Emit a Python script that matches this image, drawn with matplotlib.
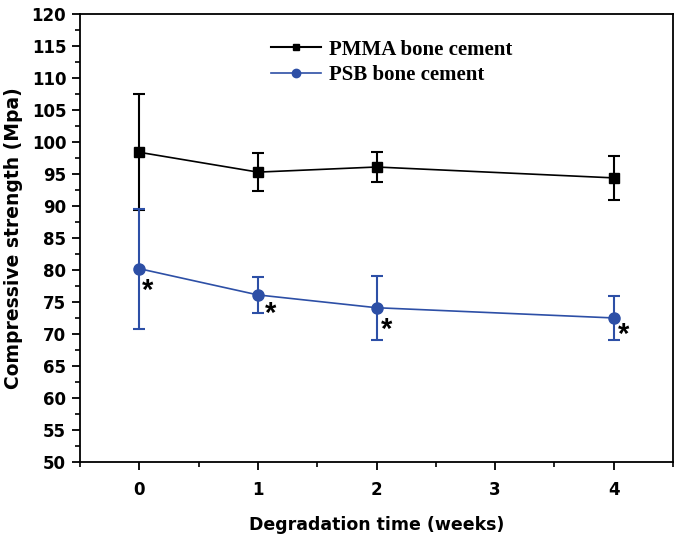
import matplotlib
matplotlib.use("Agg")
import matplotlib.pyplot as plt
from matplotlib.ticker import MultipleLocator

# data
weeks = [0, 1, 2, 4]
pmma_mean = [98.4, 95.3, 96.1, 94.4]
pmma_err = [9.1, 3.0, 2.3, 3.4]
psb_mean = [80.2, 76.1, 74.1, 72.5]
psb_err = [9.4, 2.8, 5.0, 3.5]
x_ticks = [0, 1, 2, 3, 4]
# asterisk offsets (pixels) from each PSB point
star_dx = [8, 13, 10, 10]
star_dy = [-22, -19, -22, -17]

blue = '#2d4fa6'

fig = plt.figure(figsize=(6.79, 5.44), dpi=100)
ax = fig.add_axes([0.118, 0.151, 0.873, 0.823])

c1 = ax.errorbar(weeks, pmma_mean, yerr=pmma_err, color='black', marker='s', markersize=7,
                 linewidth=1.2, elinewidth=1.5, capsize=4, capthick=1.5)
c2 = ax.errorbar(weeks, psb_mean, yerr=psb_err, color=blue, marker='o', markersize=8,
                 linewidth=1.2, elinewidth=1.5, capsize=4, capthick=1.5)

for x, y, dx, dy in zip(weeks, psb_mean, star_dx, star_dy):
    ax.annotate('*', (x, y), xytext=(dx, dy), textcoords='offset pixels',
                ha='center', va='center', fontsize=21, fontweight='bold',
                family='Liberation Sans')

ax.set_xlim(-0.5, 4.5)
ax.set_ylim(50, 120)
ax.set_xticks(x_ticks)
ax.xaxis.set_minor_locator(MultipleLocator(0.5))
ax.yaxis.set_major_locator(MultipleLocator(5))
ax.yaxis.set_minor_locator(MultipleLocator(2.5))
ax.tick_params(which='major', direction='out', length=6, width=1.3,
               top=False, right=False)
ax.tick_params(which='minor', direction='out', length=3.5, width=1.2,
               top=False, right=False)
for lab in ax.get_xticklabels() + ax.get_yticklabels():
    lab.set_fontfamily('DejaVu Sans')
    lab.set_fontweight('bold')
    lab.set_fontsize(12)
ax.tick_params(axis='x', pad=8)
ax.tick_params(axis='y', pad=4)

for sp in ax.spines.values():
    sp.set_linewidth(1.3)

ax.set_xlabel('Degradation time (weeks)', fontsize=12.5, fontweight='bold',
              family='DejaVu Sans', labelpad=12)
ax.set_ylabel('Compressive strength (Mpa)', fontsize=13.5, fontweight='bold',
              family='DejaVu Sans', labelpad=6)

# legend shows only line + marker (no error bars)
h1 = plt.Line2D([], [], color='black', marker='s', markersize=5, linewidth=1.5)
h2 = plt.Line2D([], [], color=blue, marker='o', markersize=6, linewidth=1.2)
ax.legend([h1, h2], ['PMMA bone cement', 'PSB bone cement'],
          loc='upper left', bbox_to_anchor=(0.29, 0.985), frameon=False,
          prop={'family': 'Liberation Serif', 'weight': 'bold', 'size': 15},
          handlelength=2.4, handletextpad=0.4, labelspacing=0.25)

fig.savefig('out.png', dpi=100)
